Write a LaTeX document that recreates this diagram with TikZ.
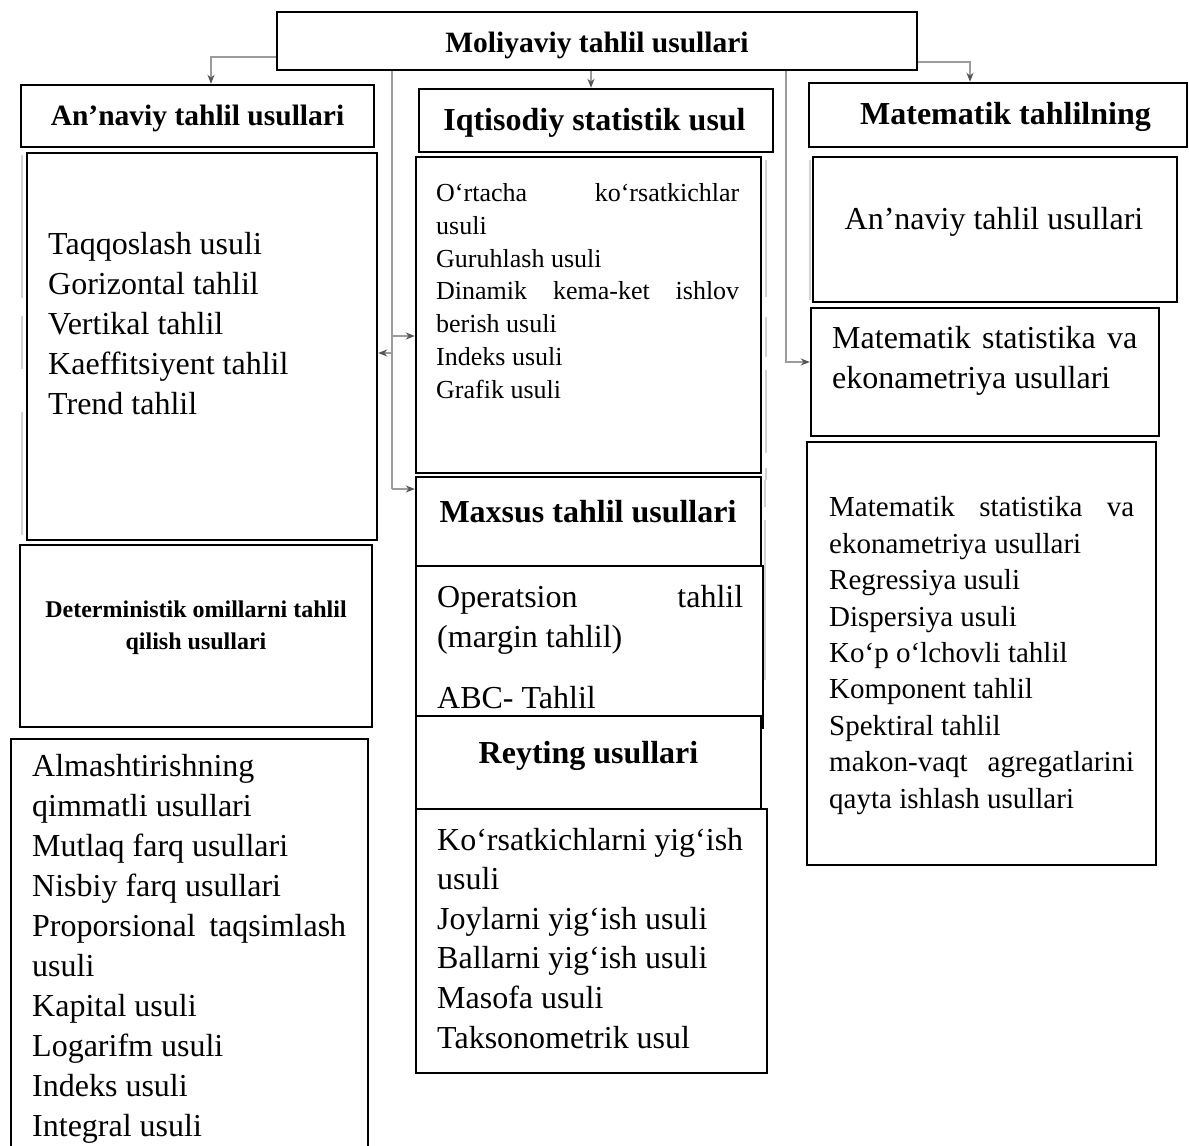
\documentclass[tikz,border=0pt]{standalone}
\usepackage{fontspec}
\setmainfont{Liberation Serif}
\usetikzlibrary{arrows.meta}
\definecolor{linkgray}{HTML}{9C9C9C}
\definecolor{tipgray}{HTML}{555555}
\definecolor{ghost}{HTML}{D2D2D2}
% a line stretched to a fixed width (justified line)
\newcommand\jline[2]{\makebox[#1][s]{#2}}
\newcommand\fsz[2]{\fontsize{#1}{#2}\selectfont}

\begin{document}
\begin{tikzpicture}[x=1pt,y=-1pt,
  frame/.style={draw=black, fill=white, line width=2.4pt, inner sep=0pt},
  conn/.style={draw=linkgray, line width=2pt},
  arr/.style={conn, -{Stealth[length=9pt,width=7pt,color=tipgray]}},
  ghostline/.style={draw=ghost, line width=2.5pt},
  lbl/.style={inner sep=0pt, anchor=base},
  % multi-line blocks are placed by the baseline of their last line
  body/.style={inner sep=0pt, anchor=base west, align=left},
]
\useasboundingbox (0,0) rectangle (1189,1146);

% faint traces beside the stacked boxes
\draw[ghostline] (22,155) -- (22,298) (22,316) -- (22,369) (22,412) -- (22,535);
\draw[ghostline] (766,160) -- (766,297) (766,317) -- (766,357) (766,370) -- (766,453) (766,468) -- (766,480);
\draw[ghostline] (765,480) -- (765,507) (765,520) -- (765,680);
\draw[ghostline] (810,160) -- (810,300);

% ---------- boxes ----------
\node[frame, minimum width=640pt, minimum height=58pt] (mol) at (597,41) {};
% left column
\node[frame, minimum width=353pt, minimum height=62pt] (hL) at (197.5,116) {};
\node[frame, minimum width=350pt, minimum height=387pt] (cL) at (202,346.5) {};
\node[frame, minimum width=352pt, minimum height=182pt] (det) at (196,636) {};
\node[inner sep=0pt, minimum width=357pt, minimum height=421pt] (alm) at (189.5,949.5) {};
\draw[line width=2.4pt] (alm.south west) -- (alm.north west) -- (alm.north east) -- (alm.south east);
% middle column
\node[frame, minimum width=354pt, minimum height=63pt] (hM) at (596,120.5) {};
\node[frame, minimum width=345pt, minimum height=316pt] (cM) at (588.5,315) {};
\node[frame, minimum width=345pt, minimum height=89pt] (hMx) at (588.5,521.5) {};
\node[frame, minimum width=347pt, minimum height=162pt] (cOp) at (589.5,647) {};
\node[frame, minimum width=351pt, minimum height=264pt] (cR) at (591.5,941) {};
\node[frame, minimum width=345pt, minimum height=93pt] (hR) at (588.5,762.5) {};
% right column
\node[frame, minimum width=378pt, minimum height=64pt] (hMt) at (998,115) {};
\node[frame, minimum width=364pt, minimum height=145pt] (cA) at (995,229.5) {};
\node[frame, minimum width=348pt, minimum height=128pt] (cMs) at (985,372) {};
\node[frame, minimum width=349pt, minimum height=423pt] (cMe) at (981.5,653.5) {};

% ---------- connectors ----------
\coordinate (bendL) at (211,57);
\coordinate (midX) at (591,0);
\coordinate (bendR) at (970,62);
\coordinate (trL) at (392,0);
\coordinate (tL1) at (392,336);
\coordinate (tL2) at (392,353);
\coordinate (tL3) at (392,489);
\coordinate (tR) at (786,362);

\draw[arr] (mol.west |- bendL) -| (hL.north -| bendL);
\draw[arr] (mol.south -| midX) -- (hM.north -| midX);
\draw[arr] (mol.east |- bendR) -| (hMt.north -| bendR);
\draw[conn] (mol.south -| trL) -- (tL3);
\draw[arr] (tL1) -- (cM.west |- tL1);
\draw[arr] (tL2) -- (cL.east |- tL2);
\draw[arr] (tL3) -- (hMx.west |- tL3);
\draw[arr] (mol.south -| tR) |- (cMs.west |- tR);

% ---------- texts ----------
\node[lbl, font=\bfseries\fsz{29.5}{36}] (tMol) at (597,52) {Moliyaviy tahlil usullari};
\node[lbl, font=\bfseries\fsz{29.5}{36}] (tHL) at (197.5,125) {An’naviy tahlil usullari};
\node[lbl, font=\bfseries\fsz{32}{40}] (tHM) at (594.5,130) {Iqtisodiy statistik usul};
\node[lbl, font=\bfseries\fsz{32}{40}] (tHMt) at (1005.5,124) {Matematik tahlilning};
\node[lbl, font=\fsz{32}{40}] (tA) at (994,229) {An’naviy tahlil usullari};
\node[lbl, font=\bfseries\fsz{32}{40}] (tMx) at (588,522) {Maxsus tahlil usullari};
\node[lbl, font=\bfseries\fsz{32}{40}] (tR) at (588.5,763) {Reyting usullari};
\node[lbl, font=\bfseries\fsz{24}{32}, align=center] (tDet) at (196,649)
  {Deterministik omillarni tahlil\\qilish usullari};

\node[body, font=\fsz{32}{40}] (tCL) at (48,414)
  {Taqqoslash usuli\\Gorizontal tahlil\\Vertikal tahlil\\Kaeffitsiyent tahlil\\Trend tahlil};
\node[body, font=\fsz{26}{32.7}] (tCM) at (436,398)
  {\jline{303pt}{O‘rtacha ko‘rsatkichlar}\\usuli\\Guruhlash usuli\\\jline{303pt}{Dinamik kema-ket ishlov}\\berish usuli\\Indeks usuli\\Grafik usuli};
\node[body, font=\fsz{32}{40}] (tOp) at (437,708)
  {\jline{306pt}{Operatsion tahlil}\\(margin tahlil)\\[21pt]ABC- Tahlil};
\node[body, font=\fsz{32}{39.6}] (tRc) at (437,1048)
  {\jline{306pt}{Ko‘rsatkichlarni yig‘ish}\\usuli\\Joylarni yig‘ish usuli\\Ballarni yig‘ish usuli\\Masofa usuli\\Taksonometrik usul};
\node[body, font=\fsz{32}{40}] (tAlm) at (32,1136)
  {Almashtirishning\\qimmatli usullari\\Mutlaq farq usullari\\Nisbiy farq usullari\\\jline{314pt}{Proporsional taqsimlash}\\usuli\\Kapital usuli\\Logarifm usuli\\Indeks usuli\\Integral usuli};
\node[body, font=\fsz{32}{40}] (tMs) at (832,388)
  {\jline{305pt}{Matematik statistika va}\\ekonametriya usullari};
\node[body, font=\fsz{29}{36.4}] (tMe) at (829,808)
  {\jline{305pt}{Matematik statistika va}\\ekonametriya usullari\\Regressiya usuli\\Dispersiya usuli\\Ko‘p o‘lchovli tahlil\\Komponent tahlil\\Spektiral tahlil\\\jline{305pt}{makon-vaqt agregatlarini}\\qayta ishlash usullari};
\end{tikzpicture}
\end{document}
